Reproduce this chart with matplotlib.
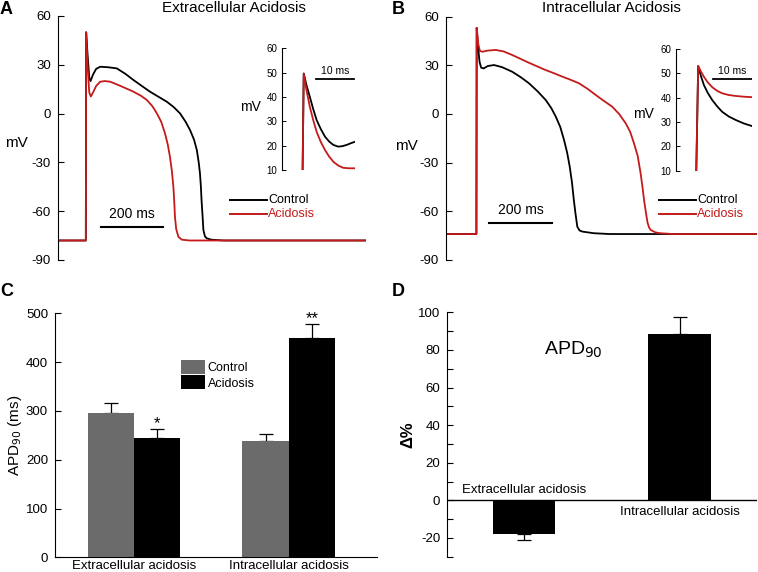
import matplotlib
matplotlib.use("Agg")
import matplotlib.pyplot as plt
import numpy as np

plt.rcParams['font.family'] = ['Liberation Sans', 'DejaVu Sans']
plt.rcParams['axes.unicode_minus'] = False

RED = '#c41a1a'
GRAY = '#6b6b6b'

# ---- Panel A: extracellular acidosis action potentials (time ms, mV)
a_ctrl_t = [-90, -1, 0, 5, 10, 14, 22, 32, 45, 70, 98, 125, 151, 178, 204, 230, 258, 280,
            300, 318, 332, 345, 354, 360, 364, 367, 369, 372, 375, 380, 386, 400, 440, 895]
a_ctrl_v = [-78, -78, 50, 35, 22, 20, 24, 27.5, 28.8, 28.5, 27.8, 24.5, 20.7, 17, 13.5, 10.5,
            7.3, 4, 0.2, -5, -10, -16, -22.4, -30, -36.7, -45, -53, -62, -71.6, -75.5, -76.7,
            -77.5, -78, -78]
a_acid_t = [-90, -1, 0, 5, 10, 15, 22, 32, 45, 60, 77, 110, 151, 175, 194, 212, 226, 240, 252,
            261, 268, 274, 279, 282, 284, 288, 295, 306, 330, 895]
a_acid_v = [-78, -78, 50, 28, 13, 10.5, 13, 17, 19.6, 20, 19.6, 17, 13.5, 11, 8.4, 4.5, 0.2,
            -5, -12, -19, -26.5, -35, -45, -55, -63.4, -71, -75.7, -77.5, -78, -78]

# inset A (ms, mV)
ai_ctrl_t = [0, 0.3, 1, 1.9, 2.8, 3.7, 4.8, 5.9, 7, 8.1, 9.4, 10.5, 11.6, 12.7, 13.8]
ai_ctrl_v = [10, 49.7, 45, 40.1, 35, 30.5, 26.8, 23.7, 21.7, 20.3, 19.6, 19.8, 20.3, 21, 21.6]
ai_acid_t = [0, 0.3, 1, 1.9, 2.8, 3.7, 4.8, 5.9, 7, 8.1, 9.4, 10.7, 12.2, 13.8]
ai_acid_v = [10, 49.5, 43, 36, 30.5, 25.7, 21.5, 18.2, 15.5, 13.4, 11.8, 10.9, 10.7, 10.7]

# ---- Panel B: intracellular acidosis
b_ctrl_t = [-98, -1, 0, 4, 9, 14, 22, 35, 55, 80, 112, 140, 165, 192, 218, 236, 250, 264,
            276, 286, 294, 301, 307, 312, 318, 325, 334, 370, 420, 886]
b_ctrl_v = [-74, -74, 53, 42, 32, 28.5, 28, 29.5, 30.1, 28.8, 26, 22.5, 18.9, 14, 8.6, 3.5,
            -1.7, -8, -16, -24, -32.5, -42, -53, -61, -69.5, -71.8, -72.5, -73.5, -74, -74]
b_acid_t = [-98, -1, 0, 5, 10, 18, 35, 60, 85, 112, 165, 218, 245, 270, 297, 323, 350, 376,
            402, 428, 450, 471, 485, 497, 509, 518, 524, 529, 535, 540, 545, 550, 565, 580,
            620, 886]
b_acid_v = [-74, -74, 53, 43, 38.8, 38.3, 39, 39.4, 38.5, 36.3, 31.5, 27, 25, 23, 21, 18.9,
            15.5, 11.7, 8, 4.5, 0, -5.8, -11, -18, -26, -36.5, -45, -53, -61, -67, -70,
            -71.5, -73, -73.5, -74, -74]

bi_ctrl_t = [0, 0.5, 1.2, 2.0, 3, 4.2, 5.5, 6.8, 8.5, 10.4, 12.5, 14.7]
bi_ctrl_v = [10, 53, 49, 45.2, 42, 39, 36.4, 34.2, 32.3, 30.8, 29.4, 28.3]
bi_acid_t = [0, 0.5, 1.2, 2.0, 3, 4.2, 5.5, 6.8, 8.5, 10.4, 12.5, 14.7]
bi_acid_v = [10, 53, 50.8, 48.6, 46.3, 44.3, 42.8, 41.8, 41.1, 40.7, 40.4, 40.2]

# ---- Panel C: APD90
groups = ['Extracellular acidosis', 'Intracellular acidosis']
apd_ctrl = [296, 239]
apd_ctrl_err = [21, 13]
apd_acid = [244, 449]
apd_acid_err = [19, 29]
sig = ['*', '**']

# ---- Panel D: change in APD90 (%)
delta = [-17.8, 88.7]
delta_err = [3.5, 9]

W, H = 758, 572
fig = plt.figure(figsize=(W / 100, H / 100), dpi=100)
LW = 1.3


def ax_px(x0, y0, x1, y1):
    return fig.add_axes([x0 / W, 1 - y1 / H, (x1 - x0) / W, (y1 - y0) / H])


def ap_axes(ax, xlim):
    ax.set_xlim(*xlim)
    ax.set_ylim(-90, 60)
    for s in ['top', 'right', 'bottom']:
        ax.spines[s].set_visible(False)
    ax.set_xticks([])
    ax.set_yticks([60, 30, 0, -30, -60, -90])
    ax.tick_params(axis='y', direction='in', length=4, labelsize=9.5, width=0.8, pad=5)
    ax.patch.set_alpha(0)


def inset_axes(ax, xlim):
    ax.set_xlim(*xlim)
    ax.set_ylim(10, 60)
    for s in ['top', 'right', 'bottom']:
        ax.spines[s].set_visible(False)
    ax.set_xticks([])
    ax.set_yticks([10, 20, 30, 40, 50, 60])
    ax.tick_params(axis='y', direction='in', length=3, labelsize=7, width=0.7, pad=3)
    ax.patch.set_alpha(0)


# Panel A
axA = ax_px(58, 16, 366, 260)
ap_axes(axA, (-90, 895))
axA.plot(a_ctrl_t, a_ctrl_v, color='black', lw=LW)
axA.plot(a_acid_t, a_acid_v, color=RED, lw=LW)
axA.plot([47, 247], [-70, -70], color='black', lw=1.5)
axA.text(147, -66, '200 ms', ha='center', va='bottom', fontsize=10)
axA.set_ylabel('mV', rotation=0, fontsize=11, va='center')
axA.yaxis.set_label_coords(-0.135, 0.48)
fig.text(234 / W, 1 - 8 / H, 'Extracellular Acidosis', ha='center', va='center', fontsize=11)
fig.text(0 / W, 1 - 10 / H, 'A', ha='left', va='center', fontsize=13, fontweight='bold')

for y, c, lab in [(200, 'black', 'Control'), (214, RED, 'Acidosis')]:
    fig.add_artist(plt.Line2D([230 / W, 267 / W], [1 - y / H, 1 - y / H], color=c, lw=1.4))
    fig.text(268 / W, 1 - y / H, lab, color=c, fontsize=9, va='center', ha='left')

axAi = ax_px(281.7, 48.3, 355, 170)
inset_axes(axAi, (-5.5, 13.8))
axAi.plot(ai_ctrl_t, ai_ctrl_v, color='black', lw=LW)
axAi.plot(ai_acid_t, ai_acid_v, color=RED, lw=LW)
axAi.plot([3.5, 13.5], [47.4, 47.4], color='black', lw=1.3)
axAi.text(8.5, 48.5, '10 ms', ha='center', va='bottom', fontsize=7.5)
axAi.set_ylabel('mV', rotation=0, fontsize=10, va='center')
axAi.yaxis.set_label_coords(-0.42, 0.52)

# Panel B
axB = ax_px(445.7, 16.5, 757, 260)
ap_axes(axB, (-98, 886))
axB.plot(b_ctrl_t, b_ctrl_v, color='black', lw=LW)
axB.plot(b_acid_t, b_acid_v, color=RED, lw=LW)
axB.plot([39, 239], [-67.5, -67.5], color='black', lw=1.5)
axB.text(139, -63.5, '200 ms', ha='center', va='bottom', fontsize=10)
axB.set_ylabel('mV', rotation=0, fontsize=11, va='center')
axB.yaxis.set_label_coords(-0.125, 0.47)
fig.text(611 / W, 1 - 8 / H, 'Intracellular Acidosis', ha='center', va='center', fontsize=11)
fig.text(392 / W, 1 - 9 / H, 'B', ha='left', va='center', fontsize=13, fontweight='bold')

for y, c, lab in [(200, 'black', 'Control'), (214, RED, 'Acidosis')]:
    fig.add_artist(plt.Line2D([659 / W, 696 / W], [1 - y / H, 1 - y / H], color=c, lw=1.4))
    fig.text(697 / W, 1 - y / H, lab, color=c, fontsize=9, va='center', ha='left')

axBi = ax_px(675.7, 49, 752.3, 170.7)
inset_axes(axBi, (-5.4, 14.7))
axBi.plot(bi_ctrl_t, bi_ctrl_v, color='black', lw=LW)
axBi.plot(bi_acid_t, bi_acid_v, color=RED, lw=LW)
axBi.plot([4.5, 14.5], [47.7, 47.7], color='black', lw=1.3)
axBi.text(9.5, 48.8, '10 ms', ha='center', va='bottom', fontsize=7.5)
axBi.set_ylabel('mV', rotation=0, fontsize=10, va='center')
axBi.yaxis.set_label_coords(-0.42, 0.47)

# Panel C
axC = ax_px(55, 313.3, 377, 557.3)
x = np.arange(len(groups))
bw = 0.3
axC.bar(x - bw / 2, apd_ctrl, bw, color=GRAY, label='Control', zorder=2)
axC.bar(x + bw / 2, apd_acid, bw, color='black', label='Acidosis', zorder=2)
axC.errorbar(x - bw / 2, apd_ctrl, yerr=[np.zeros(2), apd_ctrl_err], fmt='none',
             ecolor='black', elinewidth=0.9, capsize=5, capthick=0.9, zorder=1)
axC.errorbar(x + bw / 2, apd_acid, yerr=[np.zeros(2), apd_acid_err], fmt='none',
             ecolor='black', elinewidth=0.9, capsize=5, capthick=0.9, zorder=1)
for xi, v, e, s in zip(x + bw / 2, apd_acid, apd_acid_err, sig):
    axC.text(xi, v + e - 4, s, ha='center', va='bottom', fontsize=12)
axC.set_xlim(-0.51, 1.57)
axC.set_ylim(0, 500)
axC.set_yticks([0, 100, 200, 300, 400, 500])
axC.set_xticks(x)
axC.set_xticklabels(groups, fontsize=9.5)
axC.tick_params(axis='x', length=0, pad=2)
axC.tick_params(axis='y', direction='in', length=4, labelsize=9.5, width=0.8, pad=5)
for s in ['top', 'right']:
    axC.spines[s].set_visible(False)
axC.set_ylabel('APD$_{90}$ (ms)', fontsize=11, labelpad=1)
axC.legend(loc='upper left', bbox_to_anchor=(0.375, 0.83), frameon=False, fontsize=9,
           handlelength=1.9, handleheight=1.35, handletextpad=0.25, labelspacing=0.12,
           borderaxespad=0)
fig.text(0 / W, 1 - 292 / H, 'C', ha='left', va='center', fontsize=13, fontweight='bold')

# Panel D
axD = ax_px(447.3, 312.3, 757, 556.7)
xd = np.arange(len(delta))
axD.bar(xd, delta, 0.4, color='black', zorder=2)
err_lo = [delta_err[0], 0]
err_hi = [0, delta_err[1]]
axD.errorbar(xd, delta, yerr=[err_lo, err_hi], fmt='none', ecolor='black',
             elinewidth=0.9, capsize=5, capthick=0.9, zorder=1)
axD.axhline(0, color='black', lw=1)
axD.set_xlim(-0.493, 1.498)
axD.set_ylim(-30, 100)
axD.set_yticks([-20, 0, 20, 40, 60, 80, 100])
axD.set_yticks(np.arange(-30, 101, 10), minor=True)
axD.set_xticks([])
axD.tick_params(axis='y', which='both', direction='in', length=4, labelsize=9.5, width=0.8, pad=5)
for s in ['top', 'right', 'bottom']:
    axD.spines[s].set_visible(False)
axD.text(0, 2.5, groups[0], ha='center', va='bottom', fontsize=9.5)
axD.text(1, -3, groups[1], ha='center', va='top', fontsize=9.5)
axD.text(0.32, 80, 'APD$_{90}$', ha='center', va='center', fontsize=14)
axD.set_ylabel('Δ%', fontsize=12, fontweight='bold', labelpad=2)
fig.text(392 / W, 1 - 292 / H, 'D', ha='left', va='center', fontsize=13, fontweight='bold')

fig.savefig('out.png', dpi=100)
